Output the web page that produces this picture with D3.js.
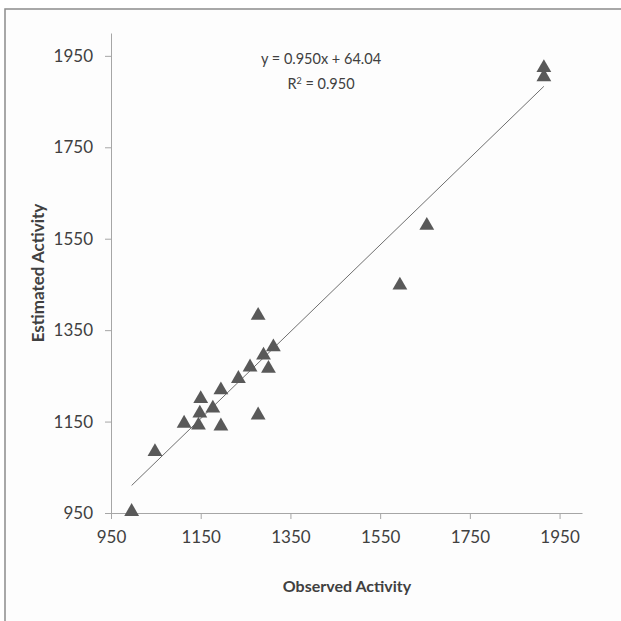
<!DOCTYPE html>
<html>
<head>
<meta charset="utf-8">
<script src="https://cdn.jsdelivr.net/npm/d3@7"></script>
<style>
  body { margin: 0; background: #fff; }
  text { font-family: "Lato", "Liberation Sans", sans-serif; fill: #404040; }
</style>
</head>
<body>
<div id="chart"></div>
<script>
// Observed vs estimated activity
var observed  = [996, 1048, 1113, 1145, 1148, 1150, 1177, 1195, 1195, 1234, 1260, 1278, 1278, 1290, 1301, 1312, 1594, 1654, 1915, 1915];
var estimated = [953, 1084, 1146, 1142, 1168, 1200, 1179, 1219, 1140, 1244, 1269, 1382, 1164, 1295, 1266, 1313, 1448, 1579, 1924, 1904];
var tickValues = [950, 1150, 1350, 1550, 1750, 1950];
var slope = 0.950, intercept = 64.04, r2 = "0.950";

var svgWidth = 621, svgHeight = 621;

var svg = d3.select("#chart")
  .append("svg")
  .attr("width", svgWidth)
  .attr("height", svgHeight);

// outer frame (only left and top edges show in the picture)
svg.append("rect")
  .attr("x", 5)
  .attr("y", 9)
  .attr("width", 700)
  .attr("height", 700)
  .attr("fill", "#fdfdfd")
  .attr("stroke", "#8c8c8c")
  .attr("stroke-width", 1.5);

var x = d3.scaleLinear().domain([950, 2000]).range([111, 582]);
var y = d3.scaleLinear().domain([950, 2000]).range([513, 33]);

var xAxis = d3.axisBottom(x).tickValues(tickValues).tickFormat(d3.format("d"))
  .tickSize(6).tickSizeOuter(0).tickPadding(12);
var yAxis = d3.axisLeft(y).tickValues(tickValues).tickFormat(d3.format("d"))
  .tickSize(6).tickSizeOuter(0).tickPadding(12);

var gx = svg.append("g")
  .attr("transform", "translate(0," + y(950) + ")")
  .call(xAxis);
var gy = svg.append("g")
  .attr("transform", "translate(" + x(950) + ",0)")
  .call(yAxis);

[gx, gy].forEach(function(g) {
  g.select(".domain").attr("stroke", "#a6a6a6");
  g.selectAll(".tick line").attr("stroke", "#a6a6a6");
  g.selectAll(".tick text").attr("font-size", "17px").attr("fill", "#404040");
});

// trend line
var xMin = d3.min(observed), xMax = d3.max(observed);
svg.append("line")
  .attr("x1", x(xMin))
  .attr("y1", y(slope * xMin + intercept))
  .attr("x2", x(xMax))
  .attr("y2", y(slope * xMax + intercept))
  .attr("stroke", "#6f6f6f")
  .attr("stroke-width", 1);

// triangles
var tri = d3.symbol().type(d3.symbolTriangle).size(95);
svg.append("g")
  .selectAll("path")
  .data(observed)
  .enter()
  .append("path")
  .attr("d", tri)
  .attr("transform", function(d, i) { return "translate(" + x(d) + "," + y(estimated[i]) + ")"; })
  .attr("fill", "#595959");

// equation
svg.append("text")
  .attr("x", 321)
  .attr("y", 64)
  .attr("text-anchor", "middle")
  .attr("font-size", "14.5px")
  .text("y = " + slope.toFixed(3) + "x + " + intercept.toFixed(2));

var r = svg.append("text")
  .attr("x", 321)
  .attr("y", 89)
  .attr("text-anchor", "middle")
  .attr("font-size", "14.5px");
r.append("tspan").text("R");
r.append("tspan").attr("baseline-shift", "super").attr("font-size", "9px").text("2");
r.append("tspan").text(" = " + r2);

// axis titles
svg.append("text")
  .attr("transform", "translate(44,273) rotate(-90)")
  .attr("text-anchor", "middle")
  .attr("font-size", "17px")
  .attr("font-weight", "bold")
  .text("Estimated Activity");

svg.append("text")
  .attr("x", 347)
  .attr("y", 592)
  .attr("text-anchor", "middle")
  .attr("font-size", "16px")
  .attr("font-weight", "bold")
  .text("Observed Activity");
</script>
</body>
</html>
